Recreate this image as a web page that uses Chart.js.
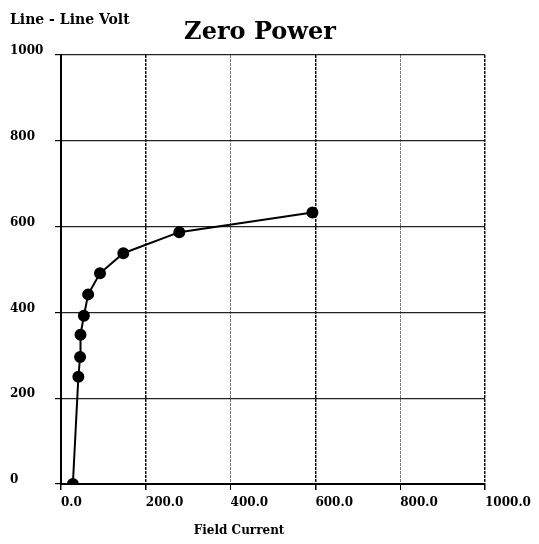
<!DOCTYPE html>
<html>
<head>
<meta charset="utf-8">
<script src="https://cdn.jsdelivr.net/npm/chart.js@4/dist/chart.umd.min.js"></script>
<style>
  html, body { margin: 0; padding: 0; background: #fff; }
  #wrap { width: 539px; height: 544px; }
</style>
</head>
<body>
<div id="wrap"><canvas id="chart" width="539" height="544"></canvas></div>
<script>
// данные
const fieldCurrent = [28, 41, 45, 46, 54, 64, 92, 147, 279, 593];
const lineVolt = [0, 250, 296, 348, 392, 442, 491, 538, 587, 633];
const xTicks = [0, 200, 400, 600, 800, 1000];
const yTicks = [0, 200, 400, 600, 800, 1000];

const chartTitle = 'Zero Power';
const yTitle = 'Line - Line Volt';
const xTitle = 'Field Current';

// надписи рисуем сами, чтобы поставить их как на оригинале
const textPlugin = {
    id: 'texts',
    afterDraw(chart) {
        const ctx = chart.ctx;
        const area = chart.chartArea;
        ctx.save();
        ctx.fillStyle = '#000';
        ctx.textBaseline = 'middle';

        ctx.font = 'bold 14px "DejaVu Serif"';
        ctx.textAlign = 'left';
        ctx.fillText(yTitle, 10, 20);

        ctx.font = 'bold 24px "DejaVu Serif"';
        ctx.textAlign = 'center';
        ctx.fillText(chartTitle, 260, 33);

        ctx.font = 'bold 12px "DejaVu Serif"';
        ctx.fillText(xTitle, area.left + (area.right - area.left) * 0.42, 531);
        ctx.restore();
    }
};

const tickFont = { family: 'DejaVu Serif', size: 12, weight: 'bold' };

const ctx = document.getElementById('chart').getContext('2d');
window.myChart = new Chart(ctx, {
    type: 'line',
    data: {
        datasets: [{
            data: fieldCurrent.map((x, i) => ({ x: x, y: lineVolt[i] })),
            borderColor: '#000',
            backgroundColor: '#000',
            borderWidth: 2,
            pointRadius: 5,
            pointHoverRadius: 5,
            tension: 0,
            fill: false
        }]
    },
    options: {
        responsive: false,
        animation: false,
        layout: {
            padding: { left: 10, right: 54, top: 55, bottom: 0 }
        },
        plugins: {
            legend: { display: false },
            tooltip: { enabled: false }
        },
        scales: {
            x: {
                type: 'linear',
                min: 0,
                max: 1000,
                afterBuildTicks: (scale) => { scale.ticks = xTicks.map(v => ({ value: v })); },
                afterFit: (scale) => { scale.height = 60; },
                ticks: {
                    align: 'start',
                    color: '#000',
                    font: tickFont,
                    padding: 6,
                    callback: (v) => Number(v).toFixed(1)
                },
                grid: {
                    color: (c) => (c.tick && (c.tick.value === 400 || c.tick.value === 800)) ? '#777' : '#111',
                    lineWidth: (c) => (c.tick && (c.tick.value === 400 || c.tick.value === 800)) ? 1 : 1.5,
                    tickLength: 6,
                    tickColor: '#000'
                },
                border: { display: true, color: '#000', width: 2, dash: [3, 1] }
            },
            y: {
                min: 0,
                max: 1000,
                afterBuildTicks: (scale) => { scale.ticks = yTicks.map(v => ({ value: v })); },
                afterFit: (scale) => { scale.width = 51; },
                ticks: {
                    crossAlign: 'far',
                    color: '#000',
                    font: tickFont,
                    labelOffset: -4,
                    callback: (v) => String(v)
                },
                grid: {
                    color: '#222',
                    lineWidth: 1.2,
                    tickLength: 6,
                    tickColor: '#000'
                },
                border: { display: true, color: '#000', width: 2 }
            }
        }
    },
    plugins: [textPlugin]
});
</script>
</body>
</html>
